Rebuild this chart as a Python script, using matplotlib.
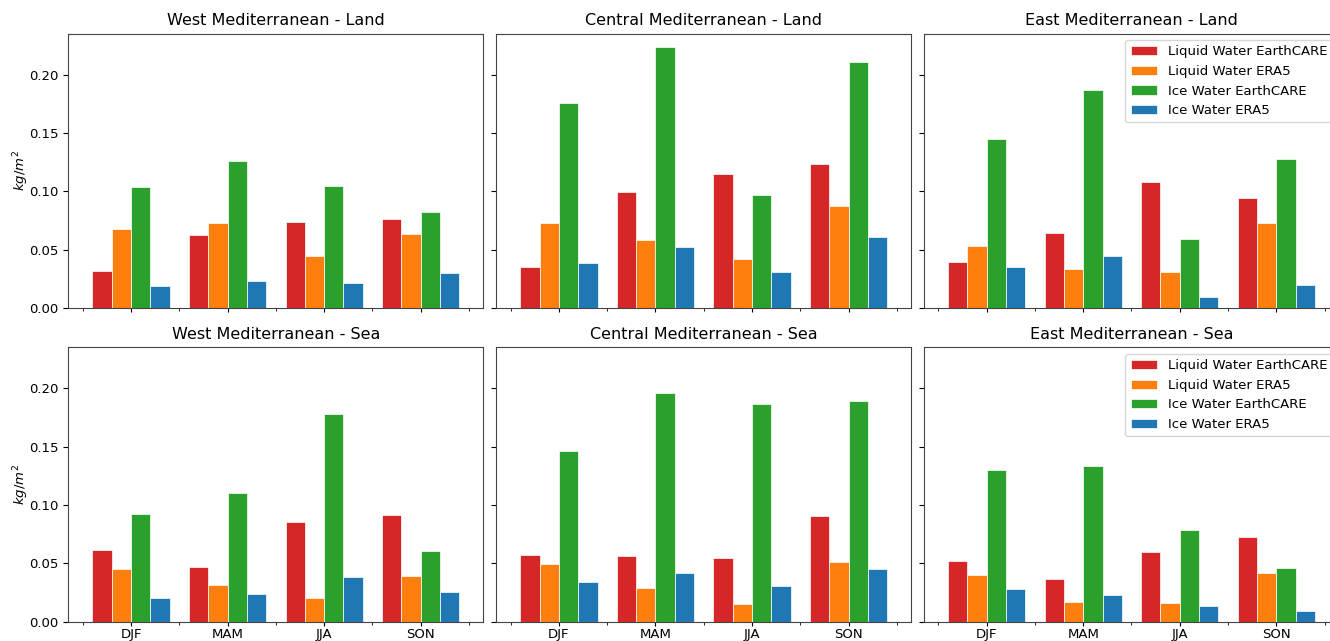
import numpy as np
import matplotlib.pyplot as plt

seasons = ['DJF', 'MAM', 'JJA', 'SON']
regions = ['West Mediterranean', 'Central Mediterranean', 'East Mediterranean']
surfaces = ['Land', 'Sea']
series_names = ['Liquid Water EarthCARE', 'Liquid Water ERA5',
                'Ice Water EarthCARE', 'Ice Water ERA5']
colors = ['tab:red', 'tab:orange', 'tab:green', 'tab:blue']

# seasonal means (kg/m2), one list per series: [DJF, MAM, JJA, SON]
west_land = [
    [0.032, 0.0625, 0.0736, 0.076],
    [0.068, 0.0725, 0.0444, 0.063],
    [0.1037, 0.1264, 0.1049, 0.082],
    [0.019, 0.023, 0.021, 0.030],
]
central_land = [
    [0.035, 0.0994, 0.1149, 0.1232],
    [0.0731, 0.0579, 0.0421, 0.0877],
    [0.1759, 0.2241, 0.0971, 0.2109],
    [0.0387, 0.0521, 0.0309, 0.0605],
]
east_land = [
    [0.0395, 0.0642, 0.108, 0.0946],
    [0.0527, 0.0332, 0.0304, 0.0731],
    [0.145, 0.1868, 0.0587, 0.1275],
    [0.035, 0.0447, 0.0097, 0.0198],
]
west_sea = [
    [0.0618, 0.0469, 0.0853, 0.0913],
    [0.0449, 0.0318, 0.0206, 0.0392],
    [0.0921, 0.1104, 0.1785, 0.0604],
    [0.0206, 0.024, 0.0381, 0.0258],
]
central_sea = [
    [0.0575, 0.0567, 0.0549, 0.0907],
    [0.0492, 0.0286, 0.0155, 0.0512],
    [0.1468, 0.1957, 0.1871, 0.1891],
    [0.034, 0.0415, 0.0303, 0.0455],
]
east_sea = [
    [0.0521, 0.0366, 0.0595, 0.073],
    [0.0403, 0.0169, 0.016, 0.0415],
    [0.1299, 0.1339, 0.0784, 0.0464],
    [0.0278, 0.0229, 0.0132, 0.0094],
]

data = {
    ('West Mediterranean', 'Land'): west_land,
    ('Central Mediterranean', 'Land'): central_land,
    ('East Mediterranean', 'Land'): east_land,
    ('West Mediterranean', 'Sea'): west_sea,
    ('Central Mediterranean', 'Sea'): central_sea,
    ('East Mediterranean', 'Sea'): east_sea,
}

fig, axes = plt.subplots(2, 3, figsize=(13.3, 6.41), dpi=100,
                         sharex=True, sharey=True)
fig.subplots_adjust(left=0.0514, right=1.0068, bottom=0.0301, top=0.9477,
                    wspace=0.0306, hspace=0.1434)

x = np.arange(len(seasons))
width = 0.2

for r, surface in enumerate(surfaces):
    for c, region in enumerate(regions):
        ax = axes[r, c]
        vals = data[(region, surface)]
        for k, name in enumerate(series_names):
            ax.bar(x + (k - 1.5) * width, vals[k], width, color=colors[k],
                   edgecolor='white', linewidth=0.5, label=name)
        ax.set_title(f'{region} - {surface}', fontsize=11.5)
        ax.set_xticks(x)
        ax.set_xticks(np.arange(-0.5, len(seasons), 1), minor=True)
        ax.set_xticklabels(seasons)
        ax.tick_params(labelsize=9.5)
        ax.tick_params(axis='x', which='major', length=3, pad=1.5)
        for s in ax.spines.values():
            s.set_color('#444444')
        if c == 0:
            ax.set_ylabel('$kg/m^2$', fontsize=9.5, labelpad=-1.5)
        if c == 2:
            ax.legend(loc='upper right', fontsize=9.5)

axes[0, 0].set_xlim(-0.65, 3.65)

plt.savefig('out.png')
plt.close()
